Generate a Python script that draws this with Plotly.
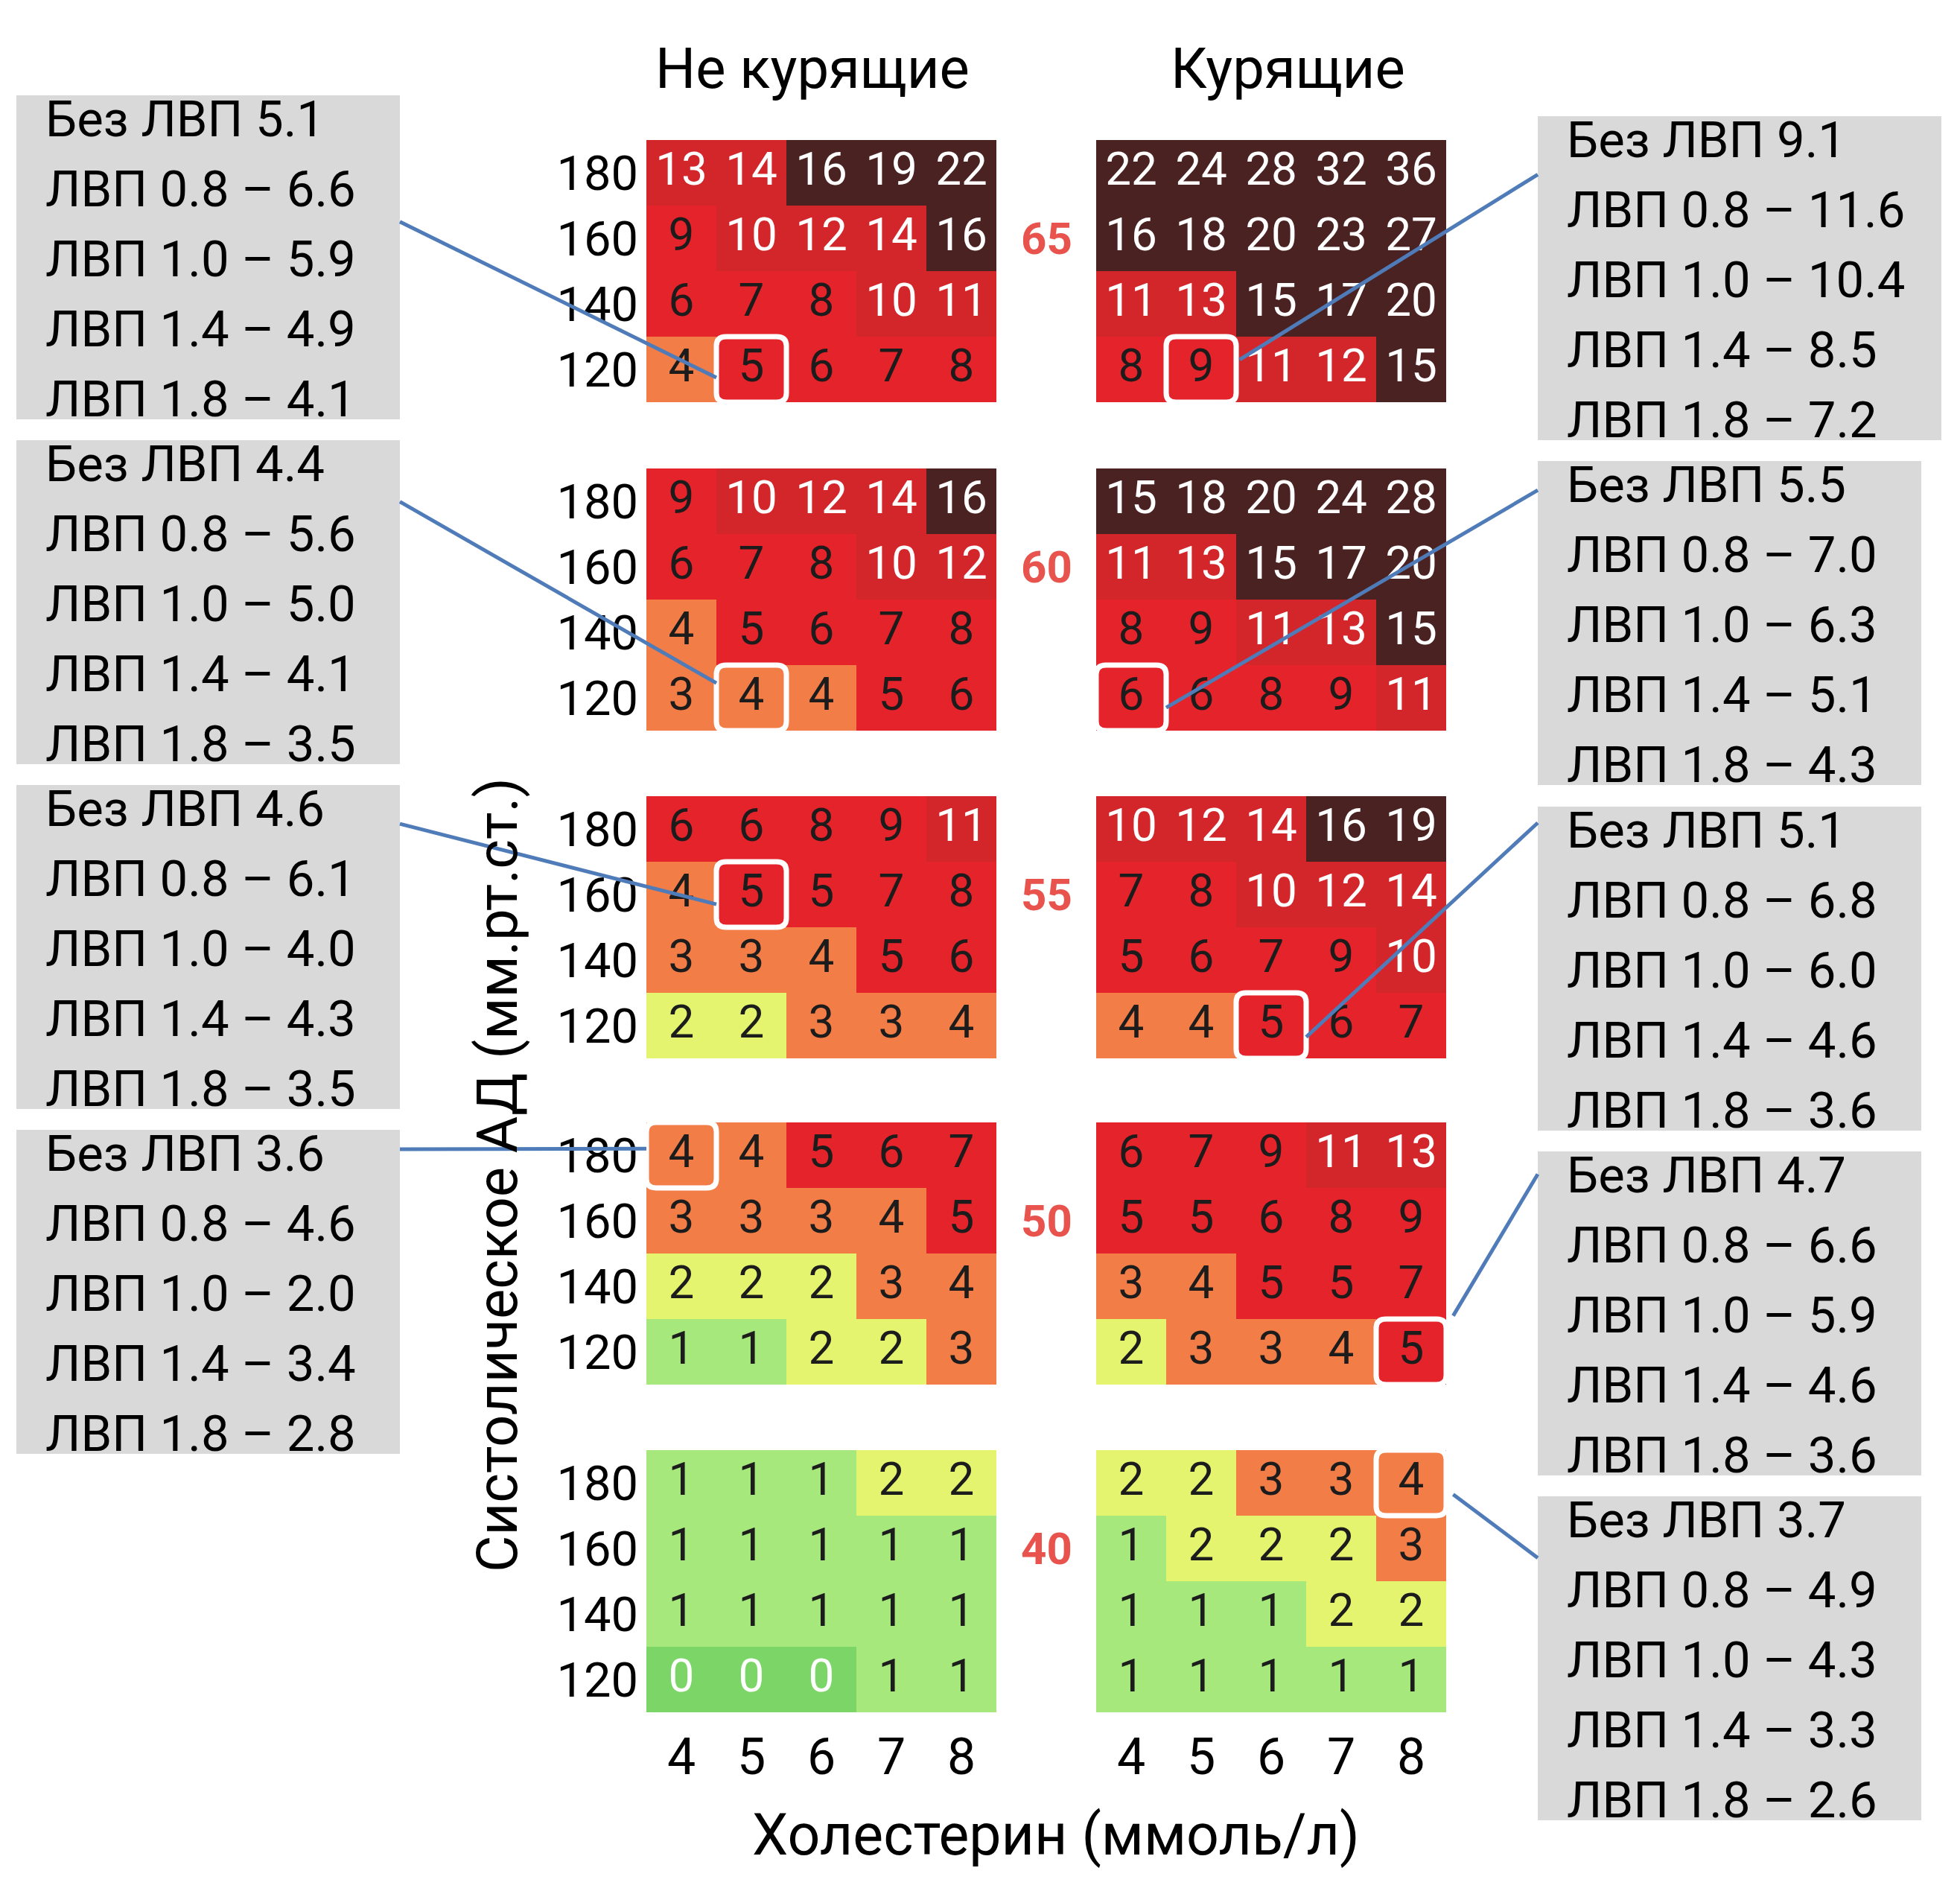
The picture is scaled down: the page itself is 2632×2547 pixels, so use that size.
import plotly.graph_objects as go

W, H = 2632, 2547
FONT = "Roboto, 'Noto Sans', 'DejaVu Sans', sans-serif"

# ---------------- data ----------------
ages = [65, 60, 55, 50, 40]
sbp = [180, 160, 140, 120]          # rows, top to bottom
chol = [4, 5, 6, 7, 8]              # columns

ns_65 = [[13, 14, 16, 19, 22], [9, 10, 12, 14, 16], [6, 7, 8, 10, 11], [4, 5, 6, 7, 8]]
ns_60 = [[9, 10, 12, 14, 16], [6, 7, 8, 10, 12], [4, 5, 6, 7, 8], [3, 4, 4, 5, 6]]
ns_55 = [[6, 6, 8, 9, 11], [4, 5, 5, 7, 8], [3, 3, 4, 5, 6], [2, 2, 3, 3, 4]]
ns_50 = [[4, 4, 5, 6, 7], [3, 3, 3, 4, 5], [2, 2, 2, 3, 4], [1, 1, 2, 2, 3]]
ns_40 = [[1, 1, 1, 2, 2], [1, 1, 1, 1, 1], [1, 1, 1, 1, 1], [0, 0, 0, 1, 1]]

s_65 = [[22, 24, 28, 32, 36], [16, 18, 20, 23, 27], [11, 13, 15, 17, 20], [8, 9, 11, 12, 15]]
s_60 = [[15, 18, 20, 24, 28], [11, 13, 15, 17, 20], [8, 9, 11, 13, 15], [6, 6, 8, 9, 11]]
s_55 = [[10, 12, 14, 16, 19], [7, 8, 10, 12, 14], [5, 6, 7, 9, 10], [4, 4, 5, 6, 7]]
s_50 = [[6, 7, 9, 11, 13], [5, 5, 6, 8, 9], [3, 4, 5, 5, 7], [2, 3, 3, 4, 5]]
s_40 = [[2, 2, 3, 3, 4], [1, 2, 2, 2, 3], [1, 1, 1, 2, 2], [1, 1, 1, 1, 1]]

nonsmokers = [ns_65, ns_60, ns_55, ns_50, ns_40]
smokers = [s_65, s_60, s_55, s_50, s_40]

group_titles = ["Не курящие", "Курящие"]
x_title = "Холестерин (ммоль/л)"
y_title = "Систолическое АД (мм.рт.ст.)"

# highlighted cells: (group 0=non-smoker 1=smoker, age, cholesterol, SBP)
left_highlights = [(0, 65, 5, 120), (0, 60, 5, 120), (0, 55, 5, 160), (0, 50, 4, 180)]
right_highlights = [(1, 65, 5, 120), (1, 60, 4, 120), (1, 55, 6, 120), (1, 50, 8, 120), (1, 40, 8, 180)]

hdl_labels = ["Без ЛВП", "ЛВП 0.8 –", "ЛВП 1.0 –", "ЛВП 1.4 –", "ЛВП 1.8 –"]
left_hdl_values = [
    ["5.1", "6.6", "5.9", "4.9", "4.1"],
    ["4.4", "5.6", "5.0", "4.1", "3.5"],
    ["4.6", "6.1", "4.0", "4.3", "3.5"],
    ["3.6", "4.6", "2.0", "3.4", "2.8"],
]
right_hdl_values = [
    ["9.1", "11.6", "10.4", "8.5", "7.2"],
    ["5.5", "7.0", "6.3", "5.1", "4.3"],
    ["5.1", "6.8", "6.0", "4.6", "3.6"],
    ["4.7", "6.6", "5.9", "4.6", "3.6"],
    ["3.7", "4.9", "4.3", "3.3", "2.6"],
]

# ---------------- styling / layout (pixels) ----------------
level_colors = ["#7bd567", "#a6e87b", "#e5f46e", "#f27d46", "#e4232a", "#d2262b", "#4a2222"]
age_color = "#e9534d"
line_color = "#4f7cb8"
box_fill = "#d9d9d9"

panel_x = [(868, 1338), (1472, 1942)]
panel_tops = [188, 629, 1069, 1507, 1947]
panel_h = 352

left_box_x = (22, 537)
left_box_tops = [128, 591, 1054, 1517]
right_box_x = [(2065, 2607), (2065, 2580), (2065, 2580), (2065, 2580), (2065, 2580)]
right_box_tops = [156, 619, 1083, 1546, 2009]
box_h = 435
line_start_frac_left = [0.39, 0.19, 0.12, 0.06]
line_start_frac_right = [0.18, 0.09, 0.05, 0.07, 0.19]
end_off_left = [(-0.5, -2.5), (-0.5, 4.5), (-0.5, -3.0), (-0.5, 2.0)]
end_off_right = [(0.55, 3.0), (0.5, -3.0), (0.5, -3.5), (0.6, 11.0), (0.6, -3.5)]


def level(v):
    if v <= 0:
        return 0
    if v == 1:
        return 1
    if v == 2:
        return 2
    if v <= 4:
        return 3
    if v <= 9:
        return 4
    if v <= 14:
        return 5
    return 6


n = len(level_colors)
colorscale = []
for i, c in enumerate(level_colors):
    colorscale.append([i / n, c])
    colorscale.append([(i + 1) / n, c])


def px(x):
    return x / W


def py(y):
    return 1 - y / H


def axis_id(ai, g):
    return ai * 2 + g + 1


def data_to_px(ai, g, c, s):
    x0, x1 = panel_x[g]
    top = panel_tops[ai]
    return (x0 + (c - 3.5) / 5 * (x1 - x0), top + (190 - s) / 80 * panel_h)


fig = go.Figure()
layout = dict(
    width=W, height=H, margin=dict(l=0, r=0, t=0, b=0),
    paper_bgcolor="white", plot_bgcolor="white", showlegend=False,
    font=dict(family=FONT, color="black"),
)
shapes = []
annotations = []

for ai, age in enumerate(ages):
    for g, tables in enumerate([nonsmokers, smokers]):
        k = axis_id(ai, g)
        xs = "x" if k == 1 else f"x{k}"
        ys = "y" if k == 1 else f"y{k}"
        vals = tables[ai]
        z = [[level(v) for v in row] for row in vals]
        fig.add_trace(go.Heatmap(
            x=chol, y=sbp, z=z, colorscale=colorscale, zmin=-0.5, zmax=n - 0.5,
            showscale=False, xaxis=xs, yaxis=ys, hoverinfo="skip",
        ))
        tx, ty, tt, tc = [], [], [], []
        for r, s in enumerate(sbp):
            for c_i, c in enumerate(chol):
                v = vals[r][c_i]
                tx.append(c)
                ty.append(s)
                tt.append(str(v))
                tc.append("white" if (v >= 10 or v == 0) else "#1c1c1c")
        fig.add_trace(go.Scatter(
            x=tx, y=ty, text=tt, mode="text", textposition="middle center",
            textfont=dict(family=FONT, size=62, color=tc),
            xaxis=xs, yaxis=ys, hoverinfo="skip",
        ))
        x0, x1 = panel_x[g]
        top = panel_tops[ai]
        xkey = "xaxis" if k == 1 else f"xaxis{k}"
        ykey = "yaxis" if k == 1 else f"yaxis{k}"
        layout[xkey] = dict(
            domain=[px(x0), px(x1)], range=[3.5, 8.5], anchor=ys,
            showgrid=False, zeroline=False, showline=False, ticks="",
            tickvals=chol, showticklabels=(ai == len(ages) - 1),
            tickfont=dict(family=FONT, size=68, color="black"),
            ticklabelstandoff=14, fixedrange=True,
        )
        layout[ykey] = dict(
            domain=[py(top + panel_h), py(top)], range=[110, 190], anchor=xs,
            showgrid=False, zeroline=False, showline=False, ticks="",
            tickvals=sbp, showticklabels=(g == 0),
            tickfont=dict(family=FONT, size=65, color="black"),
            ticklabelstandoff=10, fixedrange=True,
        )
    # age label between the two panels, aligned to the 160 row
    k_ns = axis_id(ai, 0)
    annotations.append(dict(
        text=f"<b>{age}</b>", xref="paper", yref=("y" if k_ns == 1 else f"y{k_ns}"),
        x=px((panel_x[0][1] + panel_x[1][0]) / 2), y=160, showarrow=False,
        xanchor="center", yanchor="middle",
        font=dict(family=FONT, size=60, color=age_color),
    ))

# group titles
for g, title in enumerate(group_titles):
    annotations.append(dict(
        text=title, xref="paper", yref="paper",
        x=px((panel_x[g][0] + panel_x[g][1]) / 2 + (-12 if g == 0 else 22)), y=py(92),
        showarrow=False, xanchor="center", yanchor="middle",
        font=dict(family=FONT, size=76, color="black"),
    ))

annotations.append(dict(
    text=x_title, xref="paper", yref="paper", x=px(1418), y=py(2464),
    showarrow=False, xanchor="center", yanchor="middle",
    font=dict(family=FONT, size=77, color="black"),
))
annotations.append(dict(
    text=y_title, xref="paper", yref="paper", x=px(668), y=py(1578),
    showarrow=False, xanchor="center", yanchor="middle", textangle=-90,
    font=dict(family=FONT, size=76, color="black"),
))


def rounded_path(c, s):
    x0, x1 = c - 0.5, c + 0.5
    y0, y1 = s - 10, s + 10
    rx, ry = 0.14, 2.8
    return (f"M {x0 + rx},{y0} L {x1 - rx},{y0} Q {x1},{y0} {x1},{y0 + ry} "
            f"L {x1},{y1 - ry} Q {x1},{y1} {x1 - rx},{y1} L {x0 + rx},{y1} "
            f"Q {x0},{y1} {x0},{y1 - ry} L {x0},{y0 + ry} Q {x0},{y0} {x0 + rx},{y0} Z")


def add_box(bx0, bx1, btop, values):
    shapes.append(dict(type="rect", xref="paper", yref="paper",
                       x0=px(bx0), x1=px(bx1), y0=py(btop + box_h), y1=py(btop),
                       fillcolor=box_fill, line=dict(width=0), layer="below"))
    for j, (lab, val) in enumerate(zip(hdl_labels, values)):
        annotations.append(dict(
            text=f"{lab} {val}", xref="paper", yref="paper",
            x=px(bx0 + 37), y=py(btop + 32 + j * 94), showarrow=False,
            xanchor="left", yanchor="middle",
            font=dict(family=FONT, size=67, color="black"),
        ))


def add_highlight(h, start_xy, off):
    g, age, c, s = h
    ai = ages.index(age)
    k = axis_id(ai, g)
    shapes.append(dict(type="path", xref=("x" if k == 1 else f"x{k}"), yref=("y" if k == 1 else f"y{k}"),
                       path=rounded_path(c, s), line=dict(color="white", width=7)))
    ex, ey = data_to_px(ai, g, c + off[0], s + off[1])
    shapes.append(dict(type="line", xref="paper", yref="paper",
                       x0=px(start_xy[0]), y0=py(start_xy[1]), x1=px(ex), y1=py(ey),
                       line=dict(color=line_color, width=5)))


for i, h in enumerate(left_highlights):
    top = left_box_tops[i]
    add_box(left_box_x[0], left_box_x[1], top, left_hdl_values[i])
    add_highlight(h, (left_box_x[1], top + line_start_frac_left[i] * box_h), end_off_left[i])

for i, h in enumerate(right_highlights):
    top = right_box_tops[i]
    bx0, bx1 = right_box_x[i]
    add_box(bx0, bx1, top, right_hdl_values[i])
    add_highlight(h, (bx0, top + line_start_frac_right[i] * box_h), end_off_right[i])

layout["shapes"] = shapes
layout["annotations"] = annotations
fig.update_layout(**layout)
fig.write_html("out.html")
